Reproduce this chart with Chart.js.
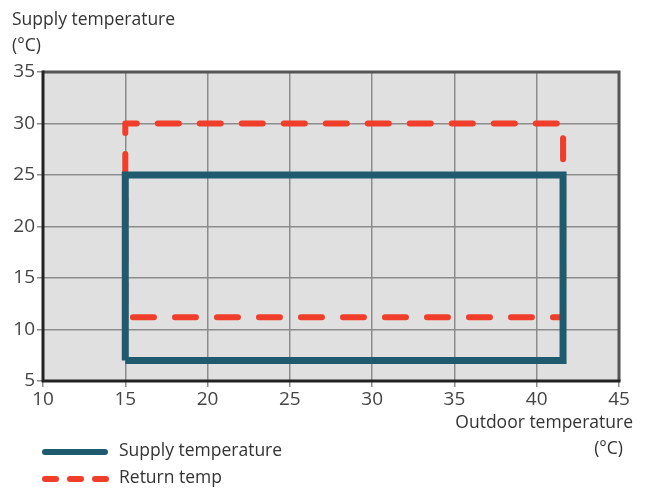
<!DOCTYPE html>
<html>
<head>
<meta charset="utf-8">
<script src="https://cdn.jsdelivr.net/npm/chart.js@4"></script>
<style>
    html, body { margin: 0; padding: 0; background: #fff; }
    #wrap { width: 646px; height: 492px; position: relative; }
</style>
</head>
<body>
<div id="wrap"><canvas id="chart" width="646" height="492"></canvas></div>
<script>
    // Operating range data (outdoor temp on x, supply/return temp on y)
    const supplyX = [15, 15, 41.6, 41.6, 15];
    const supplyY = [7, 25, 25, 7, 7];
    const returnX = [15, 15, 41.6, 41.6, 15, 15];
    const returnY = [25, 30, 30, 11.2, 11.2, 25];
    const xTicks = [10, 15, 20, 25, 30, 35, 40, 45];
    const yTicks = [5, 10, 15, 20, 25, 30, 35];

    const SUPPLY_COLOR = '#1f5a6e';
    const RETURN_COLOR = '#f03e2a';
    const TEXT_COLOR = '#333';
    const FONT = '"Open Sans", sans-serif';

    function toPoints(xs, ys) {
        return xs.map((x, i) => ({ x: x, y: ys[i] }));
    }

    // Background, frame, titles and legend
    const decorPlugin = {
        id: 'decor',
        beforeDraw(chart) {
            const { ctx, chartArea: a } = chart;
            ctx.save();
            ctx.fillStyle = '#e0e0e0';
            ctx.fillRect(a.left, a.top, a.right - a.left, a.bottom - a.top);
            ctx.restore();
        },
        afterDraw(chart) {
            const { ctx, chartArea: a } = chart;
            ctx.save();
            // top and right frame
            ctx.strokeStyle = '#555';
            ctx.lineWidth = 3;
            ctx.beginPath();
            ctx.moveTo(a.left, a.top);
            ctx.lineTo(a.right, a.top);
            ctx.lineTo(a.right, a.bottom);
            ctx.stroke();
            // left and bottom axis
            ctx.strokeStyle = '#222';
            ctx.beginPath();
            ctx.moveTo(a.left, a.top - 1.5);
            ctx.lineTo(a.left, a.bottom);
            ctx.lineTo(a.right + 1.5, a.bottom);
            ctx.stroke();

            // axis titles
            ctx.fillStyle = TEXT_COLOR;
            ctx.font = '17.5px ' + FONT;
            ctx.textBaseline = 'middle';
            ctx.textAlign = 'left';
            ctx.fillText('Supply temperature', 12, 20);
            ctx.fillText('(°C)', 12, 46);
            ctx.textAlign = 'right';
            ctx.fillText('Outdoor temperature', 633, 423);
            ctx.fillText('(°C)', 623, 449);

            // legend
            ctx.lineCap = 'round';
            ctx.lineWidth = 6;
            ctx.strokeStyle = SUPPLY_COLOR;
            ctx.beginPath();
            ctx.moveTo(45, 452);
            ctx.lineTo(105, 452);
            ctx.stroke();
            ctx.strokeStyle = RETURN_COLOR;
            ctx.setLineDash([11, 14]);
            ctx.beginPath();
            ctx.moveTo(45, 479);
            ctx.lineTo(107, 479);
            ctx.stroke();
            ctx.setLineDash([]);
            ctx.textAlign = 'left';
            ctx.fillText('Supply temperature', 119, 451);
            ctx.fillText('Return temp', 119, 478);
            ctx.restore();
        }
    };

    const ctx = document.getElementById('chart').getContext('2d');
    new Chart(ctx, {
        type: 'line',
        data: {
            datasets: [
                {
                    label: 'Supply temperature',
                    data: toPoints(supplyX, supplyY),
                    borderColor: SUPPLY_COLOR,
                    borderWidth: 7,
                    borderJoinStyle: 'miter',
                    borderCapStyle: 'butt',
                    pointRadius: 0,
                    tension: 0,
                    fill: false
                },
                {
                    label: 'Return temp',
                    data: toPoints(returnX, returnY),
                    borderColor: RETURN_COLOR,
                    borderWidth: 6,
                    borderDash: [21, 21],
                    borderJoinStyle: 'round',
                    borderCapStyle: 'round',
                    pointRadius: 0,
                    tension: 0,
                    fill: false
                }
            ]
        },
        options: {
            responsive: false,
            animation: false,
            layout: { padding: { top: 72, right: 27, left: 0, bottom: 0 } },
            plugins: {
                legend: { display: false },
                tooltip: { enabled: false }
            },
            scales: {
                x: {
                    type: 'linear',
                    min: 10,
                    max: 45,
                    afterBuildTicks: axis => { axis.ticks = xTicks.map(v => ({ value: v })); },
                    afterFit: axis => { axis.height = 111; },
                    grid: {
                        color: '#8c8c8c',
                        lineWidth: 1.5,
                        tickColor: '#8c8c8c',
                        tickLength: 6
                    },
                    border: { display: false },
                    ticks: {
                        color: '#444',
                        padding: 1,
                        maxRotation: 0,
                        font: { family: FONT, size: 19 }
                    }
                },
                y: {
                    type: 'linear',
                    min: 5,
                    max: 35,
                    afterBuildTicks: axis => { axis.ticks = yTicks.map(v => ({ value: v })); },
                    afterFit: axis => { axis.width = 43; },
                    grid: {
                        color: '#8c8c8c',
                        lineWidth: 1.5,
                        tickColor: '#8c8c8c',
                        tickLength: 6
                    },
                    border: { display: false },
                    ticks: {
                        color: '#444',
                        padding: 2,
                        font: { family: FONT, size: 19 }
                    }
                }
            }
        },
        plugins: [decorPlugin]
    });
</script>
</body>
</html>
